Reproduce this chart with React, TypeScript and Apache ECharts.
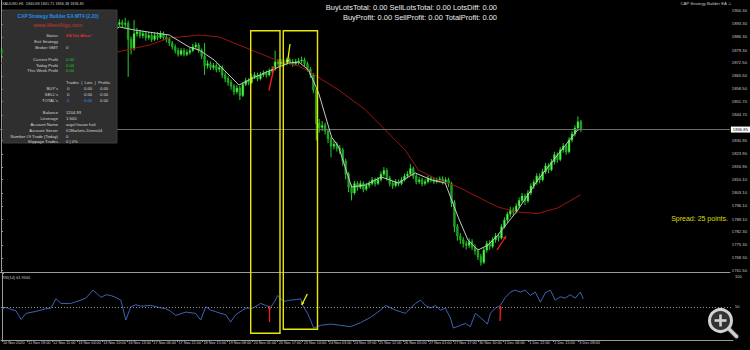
import React, { useEffect, useRef } from "react";
import * as echarts from "echarts";

// ---- time axis (hour-bar index) ----
const timeTickBars = [0, 17, 34, 51, 68, 85, 102, 119, 136, 153, 170, 187, 204, 221, 238, 255, 272, 289, 306, 323, 340, 357, 374, 391];
const timeTickLabels = [
  "10 Nov 2020", "11 Nov 18:00", "12 Nov 11:00", "13 Nov 04:00", "13 Nov 20:00", "16 Nov 13:00",
  "17 Nov 06:00", "17 Nov 22:00", "18 Nov 15:00", "19 Nov 08:00", "20 Nov 01:00", "20 Nov 17:00",
  "23 Nov 10:00", "24 Nov 03:00", "24 Nov 19:00", "25 Nov 12:00", "26 Nov 05:00", "27 Nov 01:00",
  "27 Nov 17:00", "30 Nov 10:00", "1 Dec 06:00", "1 Dec 22:00", "2 Dec 15:00", "3 Dec 08:00",
];
const priceTickLabels = [
  1900.3, 1893.3, 1886.3, 1879.3, 1872.5, 1865.5, 1858.5, 1851.7, 1844.7, 1830.9, 1823.9,
  1816.9, 1810.1, 1803.1, 1796.1, 1789.1, 1782.3, 1775.3, 1768.3, 1761.5,
];
const currentPrice = 1836.85;
const rsiTickLabels = [50, 100];
const rsiLevel = 50;

// candles: [open, close, low, high], one per 2 hour-bars
const candles = [
  [1879,1878,1876.5,1880.5],[1878,1877,1875.5,1879.5],[1877,1876,1874.8,1878.2],[1876,1875,1873.5,1877.4],[1875,1874,1872.2,1876.5],
  [1874,1871,1869.8,1875.2],[1871,1866,1864.5,1872],[1866,1862,1860.8,1867.2],[1862,1865,1861,1866.5],[1865,1867,1863.8,1868.6],
  [1867,1866,1864.2,1868.9],[1866,1868,1865,1869.5],[1868,1867,1865.6,1869.8],[1867,1870,1866.2,1871.4],[1870,1871,1868.8,1872.6],
  [1871,1870,1868.5,1872.3],[1870,1872,1869.2,1873.5],[1872,1874,1870.8,1875.6],[1874,1878,1873.2,1879.5],[1878,1876,1874.6,1879.2],
  [1876,1874,1872.8,1877.1],[1874,1875,1872.9,1876.4],[1875,1877,1874.1,1878.5],[1877,1879,1876.2,1880.4],[1879,1878,1876.7,1880.2],
  [1878,1880,1877.1,1881.6],[1880,1882,1878.9,1883.3],[1882,1884,1881.2,1885.5],[1884,1886,1883,1887.6],[1886,1888,1885.1,1889.4],
  [1888,1891,1887.2,1892.5],[1891,1889,1887.6,1892.2],[1889,1887,1885.8,1890.1],[1887,1888,1886.1,1889.6],[1888,1886,1884.7,1889.3],
  [1886,1888,1885.2,1889.5],[1888,1889,1886.9,1890.4],[1889,1890,1887.8,1891.6],[1890,1891,1888.7,1892.4],[1891,1893,1890.2,1894.6],
  [1893,1894,1891.9,1895.8],[1894,1893,1891.5,1895.4],[1893,1893.5,1891.2,1896.5],[1893.5,1885,1865,1895],[1885,1880,1877,1886.5],
  [1880,1888,1879,1895.3],[1888,1889,1886.4,1891],[1889,1887,1885.6,1890.2],[1887,1888,1885.5,1889.7],[1888,1886,1884.3,1889.4],
  [1886,1887,1884.8,1888.9],[1887,1885,1883.6,1888.4],[1885,1887,1884.1,1888.6],[1887,1886,1884.5,1888.8],[1886,1888,1885.2,1889.5],
  [1888,1886,1884.6,1889.2],[1886,1885,1883.4,1887.3],[1885,1883,1881.5,1886.2],[1883,1881,1879.6,1884.1],[1881,1879,1877.4,1882.3],
  [1879,1877,1875.8,1880.5],[1877,1879,1876.2,1880.4],[1879,1877,1875.9,1880.3],[1877,1878,1876.1,1879.6],[1878,1879,1876.8,1880.5],
  [1879,1881,1878.2,1882.6],[1881,1882,1879.9,1883.5],[1882,1879,1877.8,1883.1],[1879,1876,1874.5,1880.2],[1876,1871,1866,1883],
  [1871,1872,1869.4,1873.8],[1872,1870,1868.6,1873.2],[1870,1871,1868.8,1872.5],[1871,1869,1867.4,1872.2],[1869,1870,1867.6,1871.5],
  [1870,1866,1864.3,1871.1],[1866,1864,1862.1,1867.4],[1864,1862,1860.2,1865.3],[1862,1860,1858.1,1863.5],[1860,1857,1855.2,1861.1],
  [1857,1859,1855.8,1860.6],[1859,1855,1852.6,1860.1],[1855,1861,1854.2,1862.4],[1861,1863,1860.1,1864.5],[1863,1862,1860.5,1864.3],
  [1862,1865,1861.2,1866.4],[1865,1866,1863.8,1867.5],[1866,1864,1862.6,1867.2],[1864,1866,1863.1,1867.6],[1866,1867,1864.9,1868.4],
  [1867,1866,1864.5,1868.3],[1866,1868,1865.2,1869.5],[1868,1869,1866.9,1870.6],[1869,1873,1868.2,1879],[1873,1872,1870.4,1874.5],
  [1872,1873,1870.9,1874.6],[1873,1872,1870.5,1874.2],[1872,1874,1871.1,1875.4],[1874,1873,1871.6,1875.2],[1873,1872,1870.4,1874.5],
  [1872,1873,1871.1,1874.6],[1873,1873.5,1871.5,1875.1],[1873.5,1874,1872.2,1875.8],[1874,1872,1870.6,1875.2],[1872,1869,1867.8,1873.1],
  [1869,1866,1864.4,1870.2],[1866,1858,1856.2,1867],[1858,1840,1831,1859],[1840,1838,1835.2,1842.5],[1838,1839,1836.1,1841.4],
  [1839,1836,1834.2,1840.5],[1836,1832,1829.6,1837.2],[1832,1828,1822,1833.1],[1828,1829,1826.2,1830.8],[1829,1827,1825.1,1830.2],
  [1827,1826,1823.8,1828.6],[1826,1820,1817.5,1827.1],[1820,1813,1810.2,1821.3],[1813,1806,1803.5,1814.2],[1806,1803,1799,1807.5],
  [1803,1808,1802.1,1809.4],[1808,1806,1804.2,1809.1],[1806,1808,1805.1,1809.6],[1808,1805,1803.4,1809.2],[1805,1807,1804.1,1808.5],
  [1807,1808,1805.6,1809.5],[1808,1810,1807.1,1811.4],[1810,1808,1806.5,1811.2],[1808,1810,1807.2,1811.6],[1810,1813,1809.1,1814.5],
  [1813,1815,1811.8,1816.8],[1815,1811,1809.6,1816.2],[1811,1808,1806.4,1812.1],[1808,1807,1805.2,1809.5],[1807,1809,1806.1,1810.4],
  [1809,1808,1806.5,1810.2],[1808,1810,1807.2,1811.5],[1810,1812,1809.1,1813.4],[1812,1813,1810.8,1814.6],[1813,1816,1812.2,1818.5],
  [1816,1812,1810.5,1817.1],[1812,1809,1807.6,1813.2],[1809,1810,1807.8,1811.5],[1810,1808,1806.6,1811.2],[1808,1809,1806.9,1810.4],
  [1809,1811,1808.1,1812.3],[1811,1810,1808.6,1812.2],[1810,1809,1807.8,1811.4],[1809,1810,1808.1,1811.2],[1810,1810.5,1808.6,1811.8],
  [1810.5,1809,1807.5,1811.9],[1809,1810,1807.9,1811.3],[1810,1808,1806.2,1811.1],[1808,1798,1795.5,1809],[1798,1785,1782,1799.2],
  [1785,1780,1777.5,1786.4],[1780,1778,1775.8,1781.6],[1778,1776,1773.9,1779.4],[1776,1775,1772.8,1777.5],[1775,1777,1773.6,1778.8],
  [1777,1774,1772.5,1778.3],[1774,1772,1770.1,1775.6],[1772,1769,1767.2,1773.4],[1769,1766,1764.2,1770.5],[1766,1772.5,1765.1,1773.8],
  [1772.5,1776,1771.2,1777.4],[1776,1774.5,1772.6,1777.8],[1774.5,1778,1773.4,1779.3],[1778,1780,1776.5,1781.6],[1780,1779,1777.1,1781.4],
  [1779,1785,1778.2,1786.3],[1785,1788.5,1784,1790],[1788.5,1791.7,1787.1,1793],[1791.7,1794,1790.2,1795.6],[1794,1793,1791.1,1795.4],
  [1793,1796,1792.2,1797.5],[1796,1799,1794.9,1800.6],[1799,1801.4,1797.8,1803],[1801.4,1798.7,1796.5,1802.5],[1798.7,1803,1797.6,1804.6],
  [1803,1806.7,1801.9,1808.2],[1806.7,1808.8,1805.1,1810.1],[1808.8,1812,1807.4,1813.5],[1812,1810,1808.1,1813.4],[1810,1814.4,1809.2,1815.9],
  [1814.4,1817.5,1813.1,1819],[1817.5,1815.4,1813.6,1818.8],[1815.4,1819.6,1814.6,1821.1],[1819.6,1823.4,1818.2,1825],[1823.4,1820.8,1819.1,1824.6],
  [1820.8,1826,1819.9,1827.4],[1826,1828,1824.5,1829.6],[1828,1825,1823.4,1829.1],[1825,1831.3,1824.1,1832.8],[1831.3,1834.5,1830.1,1836],
  [1834.5,1837.7,1833.2,1839.1],[1837.7,1841,1836.1,1843.8],[1841,1836.85,1835.6,1842],
];

// moving averages: [hour-bar, price]
const fastMA = [
  [0,1876],[20,1868],[40,1871],[60,1880],[75,1889],[80.6,1891.6],[90.8,1890],[114.5,1887.3],[128,1880.9],[134.8,1879.3],
  [145,1874],[151.8,1868.6],[161.9,1860.6],[168.7,1863.3],[178.9,1867],[189,1870.2],[195.8,1872.4],[202.6,1872.9],[209.3,1868.6],
  [216.1,1856.4],[224.9,1832.9],[229.7,1827.6],[238.5,1806.2],[248,1807.3],[258.8,1811.5],[270.3,1808.3],[281.8,1813.7],
  [292.7,1810],[302.2,1808.3],[311,1790.2],[317.7,1777.8],[324.5,1772.5],[331.3,1775.2],[338,1780.5],[351.6,1793.9],
  [365.2,1809.9],[378.7,1823.3],[392.3,1836.6],
];
const slowMA = [
  [0,1872],[40,1875],[78.6,1878.2],[101,1882],[114.5,1885.7],[134.8,1887.3],[148.4,1886.3],[161.9,1882],[175.5,1877.7],
  [189,1873.4],[202.6,1870.8],[211.4,1867],[229.7,1858],[248,1847.3],[261.5,1836.6],[275,1825.9],[283.9,1815.3],
  [297.4,1809.9],[311,1806.2],[324.5,1800.8],[338,1795.5],[351.6,1792.8],[365.2,1792],[378.7,1795],[394.3,1802],
];

// RSI(14): [hour-bar, value]
const rsiPoints = [
  [0,47],[2.7,49],[6.1,46],[9.5,44],[12.9,31],[16.3,40],[23,43],[29.8,47],[33.2,48],[36.6,62],[40,55],[46.7,55],
  [53.5,60],[56.9,63],[61.7,75],[64.4,70],[67.1,64],[70.5,68],[73.8,67],[77.2,64],[80.6,60],[84,30],[87.4,50],
  [90.8,53],[94.2,51],[100.9,52],[106.4,49],[111.1,47],[114.5,43],[117.9,37],[124.7,42],[131.4,40],[134.8,30],
  [138.2,50],[141.6,45],[148.4,40],[151.8,38],[155.1,27],[158.5,38],[165.3,48],[170.1,48],[175.5,55],[178.9,52],
  [182.2,49],[185,58],[187,67],[191,58],[195.8,60],[199.9,61],[202.6,62],[204,52],[207.3,40],[209.3,30],[211.4,18],
  [216.1,22],[222.9,24],[229.7,22],[236.4,20],[243.2,26],[250,34],[256.8,45],[260.2,52],[266.9,45],[273.7,40],
  [277.1,48],[280.5,55],[283.9,60],[287.3,52],[290.7,48],[294,52],[297.4,45],[300.8,48],[304.2,33],[306.2,18],
  [311,22],[314.4,25],[317.7,20],[321.1,40],[324.5,34],[329.3,24],[331.3,40],[334.7,48],[338,52],[341.5,64],
  [344.8,72],[348.2,75],[351.6,72],[355,75],[358.4,67],[361.8,72],[365.2,57],[368.6,71],[372,75],[375.3,60],
  [378.7,65],[382.1,63],[385.5,68],[388.9,63],[392.3,72],[394.3,61.9],
];

const FONT = "'Liberation Sans', Arial, sans-serif";

function txt(text: string, x: number, y: number, fill: string, fontSize: number, align = "left", extra: any = {}) {
  return {
    type: "text", x, y, z: 120,
    style: { text, fill, fontSize, fontFamily: FONT, align, textAlign: align, verticalAlign: "middle", textVerticalAlign: "middle", ...extra },
  };
}

function arrow(x1: number, y1: number, x2: number, y2: number, color: string) {
  const a = Math.atan2(y2 - y1, x2 - x1);
  const h = 3.5;
  const p1 = [x2 - h * Math.cos(a - 0.5), y2 - h * Math.sin(a - 0.5)];
  const p2 = [x2 - h * Math.cos(a + 0.5), y2 - h * Math.sin(a + 0.5)];
  return [
    { type: "line", z: 110, shape: { x1, y1, x2, y2 }, style: { stroke: color, lineWidth: 1.3 } },
    { type: "polygon", z: 110, shape: { points: [[x2, y2], p1, p2] }, style: { fill: color } },
  ];
}

function buildGraphics() {
  const els: any[] = [];
  // info panel
  els.push({ type: "rect", z: 100, shape: { x: 3, y: 10, width: 114, height: 133 }, style: { fill: "#2f2f2f", stroke: "#3c3c3c", lineWidth: 1 } });
  els.push(txt("CAP Strategy Builder EA MT4 (2.20)", 58, 16, "#1e8ff0", 4.8, "center", { fontWeight: "bold" }));
  els.push(txt("www.MeetAlgo.com", 58, 24.7, "#c8392b", 5.6, "center"));
  const LC = "#d6d6d6";
  const G = "#22cc22";
  const rows: [string, string, number, string][] = [
    ["Status", "EA Not Allow!", 35, "#ff3030"],
    ["Exit Strategy", "", 41.7, LC],
    ["Broker GMT", "0", 47.7, LC],
    ["Current Profit", "0.00", 59.3, G],
    ["Today Profit", "0.00", 65, G],
    ["This Week Profit", "0.00", 70.7, G],
    ["Balance", "1204.93", 112.3, LC],
    ["Leverage", "1:500", 118.3, LC],
    ["Account Name", "argul hasan hali", 124, LC],
    ["Account Server", "ICMarkets-Demo04", 130, LC],
    ["Number Of Trade (Today)", "0", 136, LC],
    ["Slippage Trades", "0 | 0%", 141.7, LC],
  ];
  rows.forEach(([l, v, y, c]) => {
    els.push(txt(l, 58, y, LC, 4.2, "right"));
    if (v) els.push(txt(v, 66, y, c, 4.2, "left"));
  });
  els.push(txt("Trades  |  Lots  |  Profits", 66, 82.7, LC, 4.2, "left"));
  const B = "#2f9bff";
  const table: [string, number, string, string][] = [
    ["BUY's", 88.7, LC, LC],
    ["SELL's", 94.3, LC, LC],
    ["TOTAL's", 100, B, LC],
  ];
  table.forEach(([l, y, c1, c2]) => {
    els.push(txt(l, 58, y, LC, 4.2, "right"));
    els.push(txt("0", 67, y, c1, 4.2, "left"));
    els.push(txt("0.00", 84, y, c1, 4.2, "left"));
    els.push(txt("0.00", 100, y, c2, 4.2, "left"));
  });
  // header texts
  els.push(txt("XAUUSD,H1  1840.68 1841.71 1836.38 1836.85", 2, 3.5, "#c8c8c8", 3.8, "left"));
  els.push(txt("CAP Strategy Builder EA \u263A", 732, 3.5, "#c8c8c8", 4.2, "right"));
  els.push(txt("BuyLotsTotal: 0.00 SellLotsTotal: 0.00 LotsDiff: 0.00", 497, 7, "#ececec", 7.5, "right"));
  els.push(txt("BuyProfit: 0.00 SellProfit: 0.00 TotalProfit: 0.00", 497, 17, "#ececec", 7.5, "right"));
  els.push(txt("Spread: 25 points.", 728, 218, "#dede00", 7, "right"));
  els.push(txt("RSI(14) 61.9344", 2, 278, "#c8c8c8", 3.8, "left"));
  // annotations
  els.push({ type: "rect", z: 110, shape: { x: 250.7, y: 30.7, width: 29.3, height: 302.5 }, style: { fill: "none", stroke: "#e8e800", lineWidth: 1.4 } });
  els.push({ type: "rect", z: 110, shape: { x: 283.3, y: 30.7, width: 34.2, height: 298.6 }, style: { fill: "none", stroke: "#e8e800", lineWidth: 1.4 } });
  els.push(...arrow(269, 90.5, 274.3, 66, "#ff1a1a"));
  els.push(...arrow(290, 44, 287.5, 62.7, "#f0f000"));
  els.push(...arrow(269.5, 322, 269.5, 306.5, "#ff1a1a"));
  els.push(...arrow(307.3, 294, 301.7, 305, "#f0f000"));
  els.push(...arrow(497, 250, 506, 236, "#ff1a1a"));
  els.push(...arrow(500, 321, 500.5, 306, "#ff1a1a"));
  // lens icon
  els.push({ type: "line", z: 120, shape: { x1: 728.5, y1: 328.5, x2: 736.5, y2: 336.5 }, style: { stroke: "#222", lineWidth: 6, lineCap: "round" } });
  els.push({ type: "line", z: 121, shape: { x1: 728.5, y1: 328.5, x2: 736.5, y2: 336.5 }, style: { stroke: "#cfcfcf", lineWidth: 3.5, lineCap: "round" } });
  els.push({ type: "circle", z: 122, shape: { cx: 720.5, cy: 320.5, r: 11 }, style: { fill: "#333", stroke: "#d2d2d2", lineWidth: 3 } });
  els.push({ type: "rect", z: 123, shape: { x: 719.2, y: 314.5, width: 2.6, height: 12 }, style: { fill: "#d2d2d2" } });
  els.push({ type: "rect", z: 123, shape: { x: 714.5, y: 319.2, width: 12, height: 2.6 }, style: { fill: "#d2d2d2" } });
  return els;
}

export default function App() {
  const ref = useRef<HTMLDivElement>(null);
  useEffect(() => {
    if (!ref.current) return;
    const chart = echarts.init(ref.current, null, { renderer: "svg" });
    const xMin = -0.7;
    const xMax = 495.9;
    const axisGray = "#9a9a9a";
    const candleData = candles.map((c, i) => [2 * i + 0.5, c[0], c[1], c[2], c[3]]);
    const option: any = {
      animation: false,
      backgroundColor: "#000000",
      textStyle: { fontFamily: FONT },
      grid: [
        { left: 0, top: 0, width: 733, height: 272.5 },
        { left: 0, top: 273.5, width: 733, height: 66.5 },
      ],
      xAxis: [
        {
          type: "value", gridIndex: 0, min: xMin, max: xMax,
          axisLine: { show: true, lineStyle: { color: axisGray, width: 1 } },
          axisTick: { show: false }, axisLabel: { show: false }, splitLine: { show: false },
        },
        {
          type: "value", gridIndex: 1, min: xMin, max: xMax,
          axisLine: { show: true, lineStyle: { color: axisGray, width: 1 } },
          axisTick: { show: true, customValues: timeTickBars, length: 2, lineStyle: { color: axisGray } },
          axisLabel: {
            customValues: timeTickBars,
            formatter: (v: number) => {
              const i = timeTickBars.findIndex((b) => Math.abs(b - v) < 0.01);
              return i >= 0 ? timeTickLabels[i] : "";
            },
            fontSize: 3.8, color: "#d0d0d0", align: "left", margin: 1.2, padding: [0, 0, 0, 1],
          },
          splitLine: { show: false },
        },
      ],
      yAxis: [
        {
          type: "value", gridIndex: 0, position: "right", min: 1760.54, max: 1906.01,
          axisLine: { show: true, lineStyle: { color: axisGray, width: 1 } },
          axisTick: { show: true, customValues: priceTickLabels, length: 2, lineStyle: { color: axisGray } },
          axisLabel: {
            customValues: priceTickLabels,
            formatter: (v: number) => v.toFixed(2),
            fontSize: 4.2, color: "#c8c8c8", margin: 2,
          },
          splitLine: { show: false },
        },
        {
          type: "value", gridIndex: 1, position: "right", min: 0, max: 100,
          axisLine: { show: true, lineStyle: { color: axisGray, width: 1 } },
          axisTick: { show: true, customValues: rsiTickLabels, length: 2, lineStyle: { color: axisGray } },
          axisLabel: {
            customValues: rsiTickLabels,
            formatter: (v: number) => (v === 100 ? "{t|100}" : String(v)),
            rich: { t: { fontSize: 4, color: "#c8c8c8", padding: [6, 0, 0, 0] } },
            fontSize: 4, color: "#c8c8c8", margin: 2,
          },
          splitLine: { show: false },
        },
      ],
      series: [
        {
          type: "custom",
          name: "XAUUSD",
          xAxisIndex: 0, yAxisIndex: 0,
          data: candleData,
          encode: { x: 0, y: [1, 2, 3, 4] },
          renderItem: (params: any, api: any) => {
            const b = api.value(0), o = api.value(1), c = api.value(2), l = api.value(3), h = api.value(4);
            const po = api.coord([b, o]);
            const pc = api.coord([b, c]);
            const pl = api.coord([b, l]);
            const ph = api.coord([b, h]);
            const w = api.size([2, 0])[0] * 0.62;
            const up = c >= o;
            return {
              type: "group",
              children: [
                { type: "line", shape: { x1: pl[0], y1: pl[1], x2: ph[0], y2: ph[1] }, style: { stroke: "#2ee82e", lineWidth: 0.9 } },
                {
                  type: "rect",
                  shape: { x: po[0] - w / 2, y: Math.min(po[1], pc[1]), width: w, height: Math.max(0.8, Math.abs(po[1] - pc[1])) },
                  style: { fill: up ? "#4cff4c" : "#1f9a1f", stroke: "#2bd42b", lineWidth: 0.4 },
                },
              ],
            };
          },
          z: 3,
        },
        {
          type: "line", name: "slowMA", xAxisIndex: 0, yAxisIndex: 0, data: slowMA, showSymbol: false, symbol: "none",
          lineStyle: { color: "#9c1414", width: 1 }, z: 4,
        },
        {
          type: "line", name: "fastMA", xAxisIndex: 0, yAxisIndex: 0, data: fastMA, showSymbol: false, symbol: "none",
          lineStyle: { color: "#c8c8c8", width: 1 }, z: 5,
          markLine: {
            silent: true, symbol: "none",
            lineStyle: { color: "#6e6e6e", type: "solid", width: 1 },
            label: {
              show: true, position: "end", formatter: currentPrice.toFixed(2), distance: 1,
              backgroundColor: "#ffffff", color: "#000000", fontSize: 4.2, padding: [1, 2],
            },
            data: [{ yAxis: currentPrice }],
          },
        },
        {
          type: "line", name: "RSI", xAxisIndex: 1, yAxisIndex: 1, data: rsiPoints, showSymbol: false, symbol: "none",
          lineStyle: { color: "#3f62b3", width: 1 },
          markLine: {
            silent: true, symbol: "none",
            lineStyle: { color: "#9a9a9a", type: [1, 2], width: 1 },
            label: { show: false },
            data: [{ yAxis: rsiLevel }],
          },
        },
      ],
      graphic: { elements: buildGraphics() },
    };
    chart.setOption(option);
    return () => chart.dispose();
  }, []);
  return <div ref={ref} style={{ position: "fixed", left: 0, top: 0, width: 750, height: 350 }} />;
}
